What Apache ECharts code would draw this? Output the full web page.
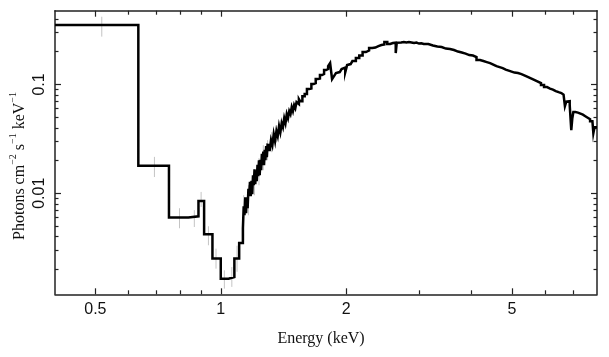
<!DOCTYPE html>
<html><head><meta charset="utf-8">
<script src="https://cdn.jsdelivr.net/npm/echarts@6/dist/echarts.min.js"></script>
<style>html,body{margin:0;padding:0;background:#fff}#c{width:609px;height:357px}</style>
</head><body><div id="c"></div>
<script>
// Bin left edges (keV)
const binLo = [
  0.40, 0.634, 0.751, 0.836, 0.884, 0.912, 0.955, 1.000, 1.044, 1.078, 1.107,
  1.130, 1.135, 1.140, 1.145, 1.150, 1.155, 1.160, 1.165, 1.170, 1.175, 1.180, 1.185,
  1.190, 1.195, 1.200, 1.205, 1.210, 1.215, 1.220, 1.225, 1.230, 1.235, 1.240, 1.245,
  1.250, 1.255, 1.260, 1.265, 1.270, 1.275, 1.280, 1.285, 1.290, 1.295,
  1.30, 1.31, 1.32, 1.33, 1.34, 1.35, 1.36, 1.37, 1.38, 1.39, 1.40,
  1.41, 1.42, 1.43, 1.44, 1.45, 1.46, 1.47, 1.48, 1.49, 1.50, 1.51, 1.52, 1.53, 1.54,
  1.55, 1.57, 1.59, 1.61, 1.63, 1.65, 1.67, 1.69, 1.71, 1.73, 1.75, 1.77, 1.79, 1.81,
  1.83, 1.85, 1.87, 1.89, 1.91, 1.93, 1.95, 1.97, 1.99, 2.01, 2.03, 2.05,
  2.07, 2.11, 2.15, 2.19, 2.23, 2.27, 2.31, 2.35, 2.39, 2.43, 2.47, 2.51, 2.55, 2.59,
  2.63, 2.645, 2.67, 2.71, 2.75, 2.79, 2.83, 2.87, 2.91, 2.95, 2.99, 3.03,
  3.07, 3.15, 3.23, 3.31, 3.39, 3.47, 3.55, 3.63, 3.71, 3.79, 3.87, 3.95, 4.03, 4.11,
  4.19, 4.27, 4.35, 4.43, 4.51, 4.59, 4.67, 4.75, 4.83, 4.91, 4.99,
  5.07, 5.17, 5.27, 5.37, 5.47, 5.57, 5.67, 5.77, 5.87, 5.97, 6.07, 6.17, 6.27, 6.37,
  6.47, 6.57, 6.65, 6.70, 6.75, 6.82, 6.88, 6.94, 6.98, 7.02, 7.10, 7.20, 7.30, 7.40,
  7.50, 7.60, 7.70, 7.80, 7.84, 7.89
];
const lastEdge = 8.0;
// Photons cm^-2 s^-1 keV^-1 in each bin
const binVal = [
  0.352, 0.0179, 0.0060, 0.00615, 0.0085, 0.0042, 0.00251, 0.00164, 0.00170, 0.00251, 0.0035,
  0.00477, 0.0076, 0.00628, 0.0092, 0.00655, 0.0092, 0.00728, 0.0110, 0.00939, 0.01277,
  0.00939, 0.01304, 0.0098, 0.01465, 0.01186, 0.01664, 0.01211, 0.01629, 0.0129, 0.0183,
  0.01435, 0.02014, 0.01465, 0.02035, 0.01629, 0.02311, 0.01811, 0.02411, 0.01811, 0.02515,
  0.02014, 0.02709, 0.02146, 0.02796,
  0.02767, 0.02436, 0.03076, 0.02767, 0.03493, 0.03011, 0.03722, 0.03348, 0.04138, 0.03644,
  0.04409, 0.04051, 0.04902, 0.04409, 0.05336, 0.04902, 0.05686, 0.05336, 0.06189, 0.05686,
  0.06456, 0.06059, 0.0688, 0.06595, 0.07331,
  0.07027, 0.0781, 0.0815, 0.09061, 0.0916, 0.1007, 0.1029, 0.112, 0.1132, 0.1219, 0.1245,
  0.1355, 0.1384, 0.1475, 0.1572, 0.112, 0.1193, 0.1272, 0.1299, 0.1355, 0.1384, 0.1429,
  0.1299, 0.1507, 0.1539, 0.1589,
  0.164, 0.1747, 0.1842, 0.1984, 0.2048, 0.216, 0.2183, 0.2253, 0.2302, 0.2326, 0.2453,
  0.2351, 0.2401, 0.2420, 0.1943, 0.2420, 0.2427, 0.2453, 0.2427, 0.2453, 0.2427, 0.2401, 0.2427,
  0.2376, 0.2390, 0.2351,
  0.2351, 0.2278, 0.223, 0.2206, 0.2137, 0.2114, 0.207, 0.2005, 0.1963, 0.1922, 0.1862,
  0.1842, 0.1785, 0.1675, 0.164, 0.1605, 0.1572, 0.1523, 0.1475, 0.1444, 0.1414, 0.137,
  0.1341, 0.1313, 0.1285,
  0.1272, 0.1245, 0.1206, 0.1168, 0.1132, 0.1097, 0.1062, 0.1029, 0.0986, 0.0945, 0.0916,
  0.0897, 0.0869, 0.085, 0.0833, 0.0806, 0.0781, 0.0632, 0.0695, 0.0703, 0.0646, 0.0380,
  0.0490, 0.0557, 0.0551, 0.0539, 0.0528, 0.0511, 0.0495, 0.0480, 0.0460, 0.0450, 0.0357,
  0.0405
];
// Error bars
const errE  = [0.518, 0.693, 0.796, 0.864, 0.897, 0.934, 0.974, 1.020, 1.063, 1.094, 1.135, 1.165, 1.205, 1.235, 1.265, 1.295, 1.325, 1.36, 1.40, 1.44, 1.48];
const errLo = [0.275, 0.0141, 0.00477, 0.0049, 0.00749, 0.00333, 0.00203, 0.00133, 0.00138, 0.0019, 0.0037, 0.00628, 0.00959, 0.01186, 0.01629, 0.02014, 0.02385, 0.02948, 0.03568, 0.04504, 0.05224];
const errHi = [0.419, 0.0216, 0.00729, 0.0070, 0.01029, 0.00498, 0.0031, 0.00196, 0.0021, 0.0033, 0.0096, 0.01186, 0.01629, 0.02101, 0.02767, 0.03076, 0.03644, 0.04227, 0.05007, 0.05932, 0.06736];

const xMajor = [0.5, 1, 2, 5];
const xMinor = [0.6, 0.7, 0.8, 0.9, 3, 4, 6, 7];
const yMajor = [0.01, 0.1];
const yMinor = [0.002, 0.003, 0.004, 0.005, 0.006, 0.007, 0.008, 0.009,
                0.02, 0.03, 0.04, 0.05, 0.06, 0.07, 0.08, 0.09, 0.2, 0.3, 0.4];
const xTitle = 'Energy (keV)';

const XMIN = 0.4, XMAX = 8.0, YMIN = 0.00118, YMAX = 0.476;
const AX = '#222';
const labelFont = {fontFamily: '"Liberation Sans", Arial, sans-serif', fontSize: 16, color: '#111'};

function mkAxis(pos, min, max, ticks, len, withLabels, isY) {
  const a = {
    type: 'log', logBase: 10, gridIndex: 0, position: pos, min: min, max: max,
    axisLine: {show: withLabels, onZero: false, lineStyle: {color: AX, width: 1.5}},
    axisTick: {show: true, inside: true, length: len, customValues: ticks, lineStyle: {color: AX, width: 1.2}},
    axisLabel: {show: false},
    splitLine: {show: false}, minorTick: {show: false}, minorSplitLine: {show: false}
  };
  if (withLabels && (pos === 'bottom' || pos === 'left')) {
    a.axisLabel = Object.assign({show: true, customValues: ticks, margin: 7,
      formatter: v => String(+v.toPrecision(6)),
      rotate: isY ? 90 : 0}, labelFont);
  }
  return a;
}

const lineData = binLo.map((e, i) => [e, binVal[i]]);
lineData.push([lastEdge, binVal[binVal.length - 1]]);
const errData = errE.map((e, i) => [e, errLo[i], errHi[i]]);

const chart = echarts.init(document.getElementById('c'), null, {renderer: 'canvas'});
chart.setOption({
  animation: false,
  backgroundColor: '#fff',
  grid: {left: 55, right: 12, top: 10.7, bottom: 62.7, containLabel: false},
  xAxis: [
    mkAxis('bottom', XMIN, XMAX, xMajor, 6, true, false),
    mkAxis('bottom', XMIN, XMAX, xMinor, 4, false, false),
    mkAxis('top', XMIN, XMAX, xMajor, 6, true, false),
    mkAxis('top', XMIN, XMAX, xMinor, 4, false, false)
  ],
  yAxis: [
    mkAxis('left', YMIN, YMAX, yMajor, 6, true, true),
    mkAxis('left', YMIN, YMAX, yMinor, 3.5, false, true),
    mkAxis('right', YMIN, YMAX, yMajor, 6, true, true),
    mkAxis('right', YMIN, YMAX, yMinor, 3.5, false, true)
  ],
  graphic: [
    {type: 'text', x: 321, y: 339, z: 10,
     style: {text: xTitle, font: '16px "Liberation Serif", "Times New Roman", serif', fill: '#111', align: 'center', verticalAlign: 'middle'}},
    {type: 'text', x: 18, y: 166, rotation: Math.PI / 2, z: 10,
     style: {
       text: '{n|Photons cm}{s|−2}{n| s}{s|−1}{n| keV}{s|−1}',
       align: 'center', verticalAlign: 'middle',
       rich: {
         n: {fontFamily: '"Liberation Serif", "Times New Roman", serif', fontSize: 16, fill: '#111', lineHeight: 20, verticalAlign: 'bottom'},
         s: {fontFamily: '"Liberation Serif", "Times New Roman", serif', fontSize: 10, fill: '#111', lineHeight: 20, verticalAlign: 'top'}
       }
     }}
  ],
  series: [
    {
      type: 'custom', xAxisIndex: 0, yAxisIndex: 0, z: 1, silent: true,
      data: errData, encode: {x: 0, y: [1, 2]},
      renderItem: function (params, api) {
        const p1 = api.coord([api.value(0), api.value(1)]);
        const p2 = api.coord([api.value(0), api.value(2)]);
        return {type: 'line', shape: {x1: p1[0], y1: p1[1], x2: p2[0], y2: p2[1]},
                style: {stroke: '#c4c4c4', lineWidth: 1}};
      }
    },
    {
      type: 'line', xAxisIndex: 0, yAxisIndex: 0, z: 2, step: 'end',
      data: lineData, symbol: 'none', silent: true,
      lineStyle: {color: '#000', width: 2.5, join: 'miter'}
    }
  ]
});
</script>
</body></html>
